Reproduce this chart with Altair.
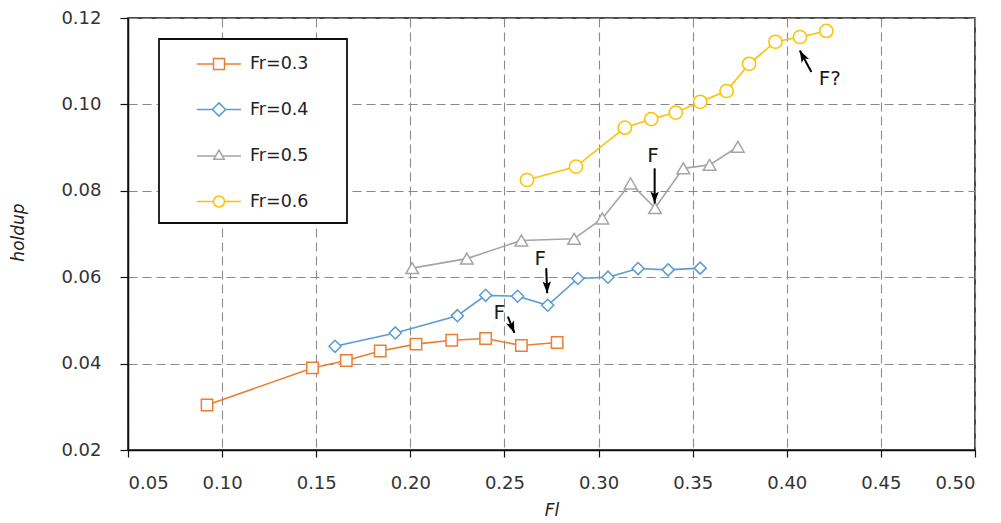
import altair as alt
import pandas as pd

# ---------------- data ----------------
series_names = ["Fr=0.3", "Fr=0.4", "Fr=0.5", "Fr=0.6"]
series_colors = ["#ED7D31", "#5B9BD5", "#A5A5A5", "#FFC000"]

fr03_x = [0.092, 0.148, 0.166, 0.184, 0.203, 0.222, 0.240, 0.259, 0.278]
fr03_y = [0.0304, 0.0390, 0.0407, 0.0429, 0.0445, 0.0454, 0.0458, 0.0442, 0.0449]

fr04_x = [0.160, 0.192, 0.225, 0.240, 0.257, 0.273, 0.289, 0.305, 0.321, 0.337, 0.354]
fr04_y = [0.0440, 0.0471, 0.0511, 0.0558, 0.0556, 0.0535, 0.0597, 0.0600, 0.0620, 0.0617, 0.0621]

fr05_x = [0.201, 0.230, 0.259, 0.287, 0.302, 0.317, 0.330, 0.345, 0.359, 0.374]
fr05_y = [0.0621, 0.0643, 0.0685, 0.0689, 0.0736, 0.0817, 0.0760, 0.0852, 0.0860, 0.0902]

fr06_x = [0.262, 0.288, 0.314, 0.328, 0.341, 0.354, 0.368, 0.380, 0.394, 0.407, 0.421]
fr06_y = [0.0825, 0.0856, 0.0946, 0.0966, 0.0981, 0.1006, 0.1031, 0.1094, 0.1145, 0.1156, 0.1170]

x_ticks = [0.05, 0.10, 0.15, 0.20, 0.25, 0.30, 0.35, 0.40, 0.45, 0.50]
y_ticks = [0.02, 0.04, 0.06, 0.08, 0.10, 0.12]

# annotations ("F" marks with arrows)
ann_text = ["F", "F", "F", "F?"]
ann_x = [0.2473, 0.2690, 0.3289, 0.4229]
ann_y = [0.0516, 0.0643, 0.0881, 0.1058]
arrow_tail_x = [0.2518, 0.2722, 0.3298, 0.4131]
arrow_tail_y = [0.0509, 0.0621, 0.0852, 0.1075]
arrow_tip_x = [0.2553, 0.2727, 0.3298, 0.4069]
arrow_tip_y = [0.0471, 0.0563, 0.0771, 0.1125]
arrow_angle = [158, 178, 180, 332]

# ---------------- tables ----------------
rows = []
for name, xs, ys in zip(series_names,
                        [fr03_x, fr04_x, fr05_x, fr06_x],
                        [fr03_y, fr04_y, fr05_y, fr06_y]):
    for i, (xv, yv) in enumerate(zip(xs, ys)):
        rows.append({"series": name, "Fl": xv, "holdup": yv, "idx": i})
df = pd.DataFrame(rows)

ann_df = pd.DataFrame({"label": ann_text, "Fl": ann_x, "holdup": ann_y})
arrow_df = pd.DataFrame({
    "Fl": arrow_tail_x, "holdup": arrow_tail_y,
    "Fl2": arrow_tip_x, "holdup2": arrow_tip_y,
    "angle": arrow_angle,
})

# ---------------- encodings ----------------
FONT = "DejaVu Sans"

x_axis = alt.Axis(values=x_ticks, format=".2f", title="Fl",
                  titleFontStyle="italic", titleFontWeight="normal",
                  titleFontSize=17, titleY=60, titleBaseline="middle",
                  labelFontSize=18, labelPadding=17, tickSize=7)
y_axis = alt.Axis(values=y_ticks, format=".2f", title="holdup",
                  titleFontStyle="italic", titleFontWeight="normal",
                  titleFontSize=17, titleX=-110, titleY=214,
                  titleAlign="center", titleBaseline="middle",
                  labelFontSize=18, labelPadding=19, tickSize=8)

x_scale = alt.Scale(domain=[0.05, 0.50], nice=False, zero=False)
y_scale = alt.Scale(domain=[0.02, 0.12], nice=False, zero=False)

X = alt.X("Fl:Q", scale=x_scale, axis=x_axis)
Y = alt.Y("holdup:Q", scale=y_scale, axis=y_axis)

col_scale = alt.Scale(domain=series_names, range=series_colors)
shape_scale = alt.Scale(domain=series_names,
                        range=["square", "diamond", "triangle-up", "circle"])
size_scale = alt.Scale(domain=series_names, range=[130, 175, 130, 121])

# legend symbols: line + marker as custom paths
legend_paths = [
    "M-1,0H-0.25M0.25,0H1M-0.25,-0.25H0.25V0.25H-0.25Z",
    "M-1,0H-0.3M0.3,0H1M-0.3,0L0,-0.3L0.3,0L0,0.3Z",
    "M-1,0H-0.16M0.16,0H1M0,-0.27L0.24,0.15H-0.24Z",
    "M-1,0H-0.25M0.25,0H1M0.25,0A0.25,0.25 0 1,1 -0.25,0A0.25,0.25 0 1,1 0.25,0Z",
]
legend_shape_scale = alt.Scale(domain=series_names, range=legend_paths)

legend = alt.Legend(
    title="M" * 23, titleOrient="bottom", titleColor="white", titleFontSize=8,
    titlePadding=3, titleLimit=400, titleAnchor="start",
    orient="none", legendX=31, legendY=21,
    padding=2, rowPadding=13.5, symbolOffset=35, labelOffset=8,
    symbolSize=1936, symbolStrokeWidth=1.5, symbolOpacity=1,
    labelFontSize=17.5, labelFont=FONT, labelColor="#222222",
    strokeColor="#111111", fillColor="white",
)

lines = alt.Chart(df).mark_line(strokeWidth=1.6).encode(
    x=X, y=Y,
    color=alt.Color("series:N", scale=col_scale, legend=None),
    order="idx:Q",
)

points = alt.Chart(df).mark_point(filled=True, fill="white", strokeWidth=1.5, opacity=1).encode(
    x=X, y=Y,
    stroke=alt.Stroke("series:N", scale=col_scale, legend=None),
    shape=alt.Shape("series:N", scale=shape_scale, legend=None),
    size=alt.Size("series:N", scale=size_scale, legend=None),
)

legend_layer = alt.Chart(df).mark_point(filled=True, fill="white", strokeWidth=1.5, opacity=0).encode(
    x=X, y=Y,
    stroke=alt.Stroke("series:N", scale=col_scale, legend=legend),
    shape=alt.Shape("series:N", scale=legend_shape_scale, legend=legend),
)

texts = alt.Chart(ann_df).mark_text(font=FONT, fontSize=20, color="#1a1a1a",
                                    align="center", baseline="middle").encode(
    x=X, y=Y, text="label:N"
)

arrows = alt.Chart(arrow_df).mark_rule(strokeWidth=2, color="black").encode(
    x=X, y=Y, x2="Fl2:Q", y2="holdup2:Q"
)

heads = alt.Chart(arrow_df).mark_point(
    filled=True, color="black", opacity=1, size=196,
    shape="M0,0L0.6,1.7L0,1.3L-0.6,1.7Z",
).encode(
    x=alt.X("Fl2:Q", scale=x_scale, axis=x_axis),
    y=alt.Y("holdup2:Q", scale=y_scale, axis=y_axis),
    angle=alt.Angle("angle:Q", scale=None),
)

chart = alt.layer(lines, points, legend_layer, arrows, heads, texts).resolve_scale(
    color="independent", stroke="independent", shape="independent", size="independent"
).properties(
    width=847, height=432,
    padding={"left": 120, "top": 10, "right": 10, "bottom": 70},
    autosize=alt.AutoSizeParams(type="none"),
).configure(
    font=FONT,
).configure_view(
    stroke="#111111", strokeWidth=1.5,
).configure_axis(
    labelFont=FONT, titleFont=FONT, labelColor="#333333", titleColor="#222222",
    domainColor="#111111", domainWidth=1.5, tickColor="#111111", tickWidth=1.2,
    gridColor="#8a8a8a", gridDash=[9, 5], gridWidth=1.1, gridOpacity=1,
).configure_legend(
    strokeWidth=1.8,
)

chart.save("out.html", embed_options={"renderer": "svg", "actions": False})
